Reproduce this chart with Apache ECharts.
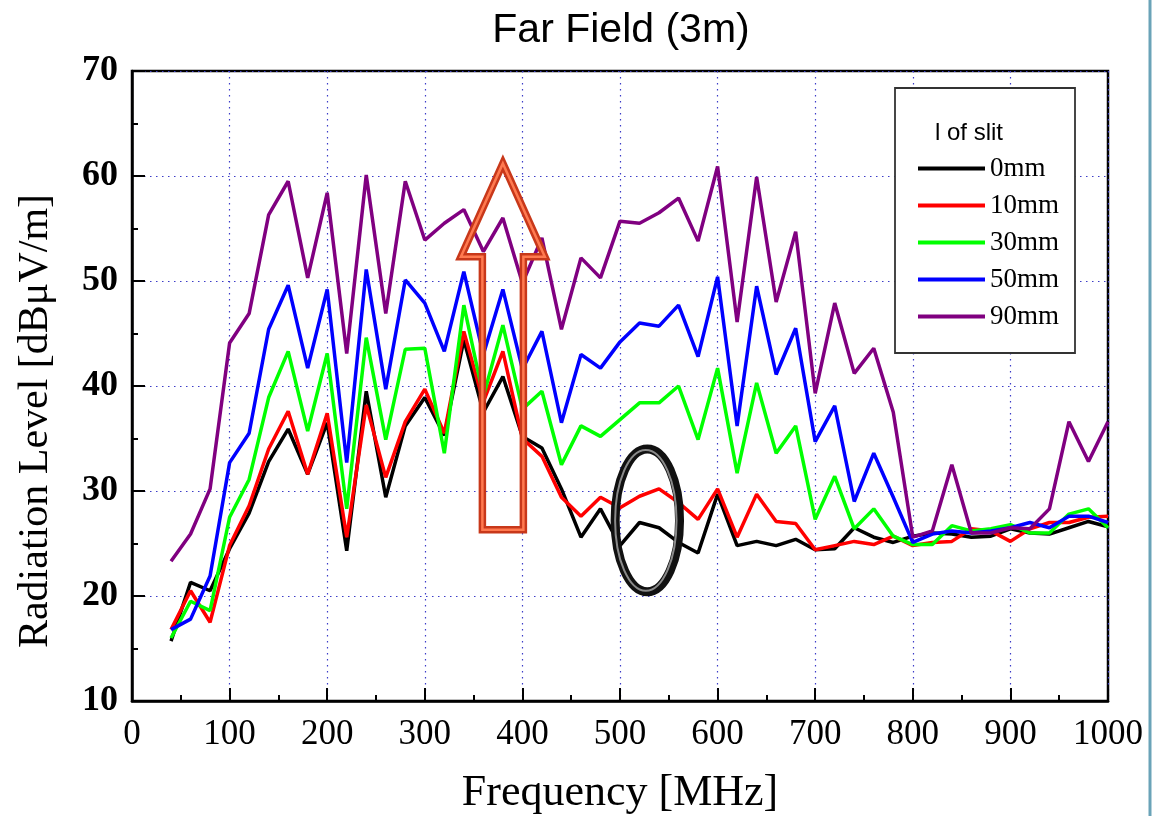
<!DOCTYPE html>
<html>
<head>
<meta charset="utf-8">
<script src="https://cdn.jsdelivr.net/npm/echarts@6/dist/echarts.min.js"></script>
<style>
  html, body { margin: 0; padding: 0; background: #ffffff; }
  #chart { width: 1159px; height: 816px; }
</style>
</head>
<body>
<div id="chart"></div>
<script>
// ---- data ----
const freq = [40,60,80,100,120,140,160,180,200,220,240,260,280,300,320,340,360,380,400,420,440,460,480,500,520,540,560,580,600,620,640,660,680,700,720,740,760,780,800,820,840,860,880,900,920,940,960,980,1000];
const slit0 = [15.7,21.3,20.5,24.5,27.9,32.8,35.9,31.6,36.5,24.3,39.5,29.4,36.2,38.9,35.3,44.4,37.5,40.9,35.2,34.1,30.2,25.6,28.3,24.8,27.0,26.5,25.1,24.1,29.7,24.8,25.2,24.8,25.4,24.4,24.5,26.5,25.6,25.1,25.7,26.0,25.9,25.6,25.7,26.4,26.0,25.9,26.5,27.1,26.6];
const slit10 = [16.8,20.5,17.5,24.8,28.6,34.0,37.6,31.6,37.4,25.6,38.2,31.3,36.6,39.7,35.5,45.2,38.5,43.3,35.0,33.3,29.4,27.6,29.4,28.4,29.5,30.2,28.9,27.3,30.2,25.6,29.7,27.1,26.9,24.4,24.8,25.2,24.9,25.7,24.8,25.1,25.2,26.4,26.2,25.2,26.4,27.0,27.0,27.5,27.6];
const slit30 = [16.0,19.5,18.6,27.5,31.1,38.9,43.3,35.7,43.1,28.3,44.6,34.9,43.5,43.6,33.6,47.7,39.0,45.8,37.8,39.5,32.5,36.2,35.2,36.8,38.4,38.4,40.0,34.9,41.7,31.7,40.3,33.6,36.2,27.3,31.4,26.4,28.3,25.7,24.9,24.9,26.7,26.2,26.4,26.8,26.0,26.0,27.8,28.3,26.5];
const slit50 = [16.8,17.8,21.9,32.7,35.5,45.4,49.6,41.7,49.2,32.7,51.1,39.7,50.1,47.9,43.3,50.9,43.0,49.2,41.6,45.2,36.5,43.0,41.7,44.2,46.0,45.7,47.7,42.8,50.4,36.2,49.5,41.1,45.5,34.7,38.1,29.0,33.6,29.4,25.1,25.9,26.2,26.0,26.2,26.5,27.0,26.5,27.6,27.6,27.0];
const slit90 = [23.3,25.9,30.2,44.1,46.9,56.3,59.5,50.3,58.4,43.1,60.1,46.9,59.5,53.9,55.5,56.8,52.8,56.0,49.8,54.1,45.4,52.2,50.3,55.7,55.5,56.5,57.9,53.8,60.9,46.1,59.9,48.0,54.7,39.3,47.9,41.2,43.6,37.5,25.6,26.2,32.5,26.0,26.0,26.5,26.4,28.3,36.6,32.8,36.6];
const seriesNames = ['0mm','10mm','30mm','50mm','90mm'];
const seriesColors = ['#000000','#ff0000','#00ff00','#0000ff','#800080'];
const seriesValues = [slit0, slit10, slit30, slit50, slit90];
const titleText = 'Far Field (3m)';
const xAxisName = 'Frequency [MHz]';
const yAxisName = 'Radiation Level [dB\u03bcV/m]';
const legendTitle = 'l of slit';

const SERIF = "'Liberation Serif', 'DejaVu Serif', 'Times New Roman', serif";
const SANS = "'Liberation Sans', Arial, 'DejaVu Sans', sans-serif";

const chart = echarts.init(document.getElementById('chart'), null, { renderer: 'canvas' });

const series = seriesNames.map((name, i) => ({
  name: name,
  type: 'line',
  data: freq.map((f, k) => [f, seriesValues[i][k]]),
  symbol: 'none',
  showSymbol: false,
  lineStyle: { color: seriesColors[i], width: 3.5 },
  itemStyle: { color: seriesColors[i] },
  emphasis: { disabled: true },
  z: 3 + i
}));

const gridDash = [1.5, 4.5];

chart.setOption({
  animation: false,
  backgroundColor: '#ffffff',
  title: {
    text: titleText,
    left: 616,
    textAlign: 'center',
    top: 5,
    textStyle: { fontFamily: SANS, fontSize: 41, fontWeight: 'normal', color: '#000' }
  },
  grid: {
    left: 132, right: 51, top: 71, bottom: 115,
    containLabel: false,
    outerBoundsMode: 'none',
    show: true, borderColor: '#000', borderWidth: 2.5, backgroundColor: 'transparent'
  },
  legend: {
    orient: 'vertical',
    left: 913,
    top: 150,
    z: 30,
    icon: 'rect',
    itemWidth: 67,
    itemHeight: 4,
    itemGap: 10,
    itemTextGap: 8,
    textStyle: { fontFamily: SERIF, fontSize: 27, color: '#000', lineHeight: 26 },
    data: seriesNames
  },
  xAxis: {
    type: 'value',
    min: 0, max: 1000, interval: 100,
    name: xAxisName,
    nameLocation: 'middle',
    nameGap: 70,
    nameTextStyle: { fontFamily: SERIF, fontSize: 44, color: '#000' },
    axisLine: { show: true, onZero: false, lineStyle: { color: '#000', width: 2.5 } },
    axisTick: { show: true, inside: true, length: 13, lineStyle: { color: '#000', width: 2 } },
    minorTick: { show: true, splitNumber: 2, length: 6, lineStyle: { color: '#000', width: 2 } },
    axisLabel: { fontFamily: SERIF, fontSize: 35, color: '#000', margin: 16, formatter: (v) => String(v) },
    splitLine: { show: true, lineStyle: { color: '#3c3cc8', width: 1.2, type: gridDash } }
  },
  yAxis: {
    type: 'value',
    min: 10, max: 70, interval: 10,
    axisLine: { show: true, onZero: false, lineStyle: { color: '#000', width: 2.5 } },
    axisTick: { show: true, inside: true, length: 13, lineStyle: { color: '#000', width: 2 } },
    minorTick: { show: true, splitNumber: 2, length: 6, lineStyle: { color: '#000', width: 2 } },
    axisLabel: { fontFamily: SERIF, fontSize: 36, fontWeight: 'bold', color: '#000', margin: 14, formatter: (v) => String(v) },
    splitLine: { show: true, lineStyle: { color: '#3c3cc8', width: 1.2, type: gridDash } }
  },
  series: series
});

// ---- annotations (positioned through the chart's own scales) ----
function px(x, y) { return chart.convertToPixel({ gridIndex: 0 }, [x, y]); }

const arrowX = 380, arrowTip = 61.2, arrowBase = 52.3, arrowBottom = 26.3, headHalf = 43, shaftHalf = 21;
const arrowPts = [
  px(arrowX, arrowTip),
  px(arrowX + headHalf, arrowBase),
  px(arrowX + shaftHalf, arrowBase),
  px(arrowX + shaftHalf, arrowBottom),
  px(arrowX - shaftHalf, arrowBottom),
  px(arrowX - shaftHalf, arrowBase),
  px(arrowX - headHalf, arrowBase)
];
const ellC = px(528, 27.2);
const ellR = px(528 + 33, 27.2 - 6.8);
const rx = ellR[0] - ellC[0], ry = ellR[1] - ellC[1];

chart.setOption({
  graphic: [
    {
      type: 'text', x: 36, y: 421, rotation: Math.PI / 2,
      style: { text: yAxisName, fontFamily: SERIF, fontSize: 42, fill: '#000', align: 'center', verticalAlign: 'middle' },
      z: 10
    },
    {
      type: 'rect', shape: { x: 895, y: 88, width: 180, height: 265 },
      style: { fill: '#fff', stroke: '#333', lineWidth: 1.8 }, z: 15
    },
    {
      type: 'text', x: 935, y: 133,
      style: { text: legendTitle, fontFamily: SANS, fontSize: 24, fill: '#000', align: 'left', verticalAlign: 'middle' },
      z: 21
    },
    {
      type: 'polygon', shape: { points: arrowPts },
      style: { fill: 'none', stroke: '#c8381a', lineWidth: 7.5, lineJoin: 'miter' }, z: 30
    },
    {
      type: 'polygon', shape: { points: arrowPts },
      style: { fill: 'none', stroke: '#ff7a50', lineWidth: 2.5, lineJoin: 'miter' }, z: 31
    },
    {
      type: 'ellipse', shape: { cx: ellC[0], cy: ellC[1], rx: rx, ry: ry },
      style: { fill: 'none', stroke: '#111', lineWidth: 9 }, z: 30
    },
    {
      type: 'ellipse', shape: { cx: ellC[0] - 1.5, cy: ellC[1], rx: rx - 1.5, ry: ry - 1 },
      style: { fill: 'none', stroke: '#8a8a8a', lineWidth: 2 }, z: 31
    },
    {
      type: 'line', shape: { x1: 1150, y1: 0, x2: 1150, y2: 816 },
      style: { stroke: '#6aa3b8', lineWidth: 3 }, z: 40
    }
  ]
});
</script>
</body>
</html>
